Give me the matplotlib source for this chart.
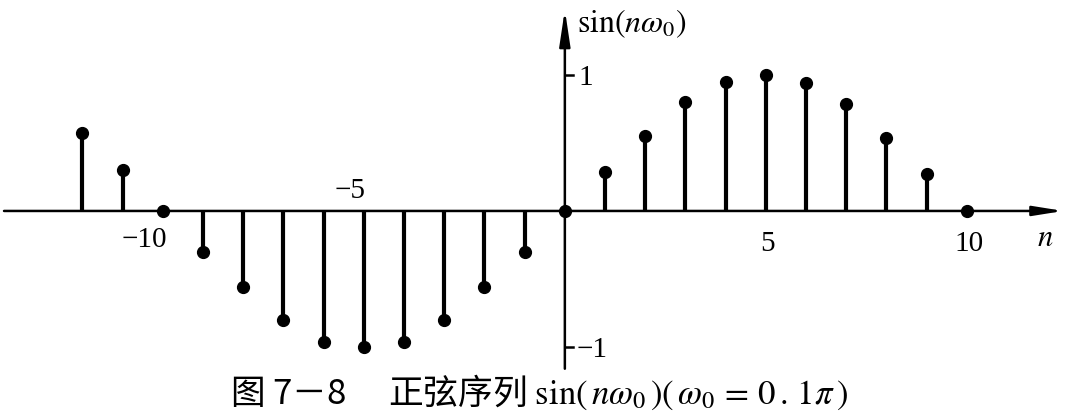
import matplotlib
matplotlib.use("Agg")
import matplotlib.pyplot as plt

plt.rcParams['mathtext.fontset'] = 'stix'
plt.rcParams['font.family'] = ['Liberation Serif', 'DejaVu Serif']

# data
n_vals = [-12, -11, -10, -9, -8, -7, -6, -5, -4, -3, -2, -1, 0,
          1, 2, 3, 4, 5, 6, 7, 8, 9, 10]
seq_vals = [0.57, 0.30, 0.0, -0.30, -0.56, -0.80, -0.96, -1.0, -0.96, -0.80, -0.56, -0.30, 0.0,
            0.29, 0.55, 0.80, 0.95, 1.0, 0.94, 0.79, 0.54, 0.27, 0.0]
x_tick_vals = [-10, -5, 5, 10]
x_tick_labels = ['−10', '−5', '5', '10']
y_tick_vals = [1, -1]
y_tick_labels = ['1', '−1']
caption = ('图 7－8　 正弦序列 '
           '$\\mathrm{sin}(\\,n\\omega_0\\,)(\\,\\omega_0\\,=\\,0\\,.\\,1\\pi\\,)$')

fig = plt.figure(figsize=(10.71, 4.2), dpi=100)
ax = fig.add_axes([0, 0, 1, 1])
ax.set_xlim(-14.05, 12.59)
ax.set_ylim(-1.537, 1.551)
ax.axis('off')

# stems
markerline, stemlines, baseline = ax.stem(n_vals, seq_vals, basefmt=' ')
plt.setp(stemlines, color='black', linewidth=3.0)
plt.setp(markerline, color='black', marker='o', markersize=8.5, zorder=5)

# axes with arrows
ax.annotate('', xy=(12.4, 0), xytext=(-13.95, 0),
            arrowprops=dict(arrowstyle='-|>,head_length=1.0,head_width=0.16',
                            lw=1.8, color='black', mutation_scale=18, shrinkA=0, shrinkB=0))
ax.annotate('', xy=(0, 1.48), xytext=(0, -1.16),
            arrowprops=dict(arrowstyle='-|>,head_length=1.2,head_width=0.18',
                            lw=1.8, color='black', mutation_scale=18, shrinkA=0, shrinkB=0))

# y ticks
for v, lab in zip(y_tick_vals, y_tick_labels):
    ax.plot([0, 0.2], [v, v], color='black', lw=1.8)
    ax.text(0.33 if v > 0 else 0.3, v - 0.02, lab, fontsize=21, ha='left', va='center')

# x tick labels
for v, lab in zip(x_tick_vals, x_tick_labels):
    if v == -5:
        ax.text(v - 0.35, 0.15, lab, fontsize=21, ha='center', va='center')
    elif v < 0:
        ax.text(v - 0.45, -0.21, lab, fontsize=21, ha='center', va='center')
    else:
        ax.text(v + 0.05, -0.24, lab, fontsize=21, ha='center', va='center')

ax.text(11.95, -0.2, '$n$', fontsize=22, ha='center', va='center')
ax.text(0.3, 1.38, '$\\mathrm{sin}(n\\omega_0)$', fontsize=23, ha='left', va='center')

ax.text(-0.65, -1.335, caption, fontsize=25, ha='center', va='center',
        family=['Noto Sans CJK SC', 'DejaVu Sans'])

fig.savefig('out.png', dpi=100)
